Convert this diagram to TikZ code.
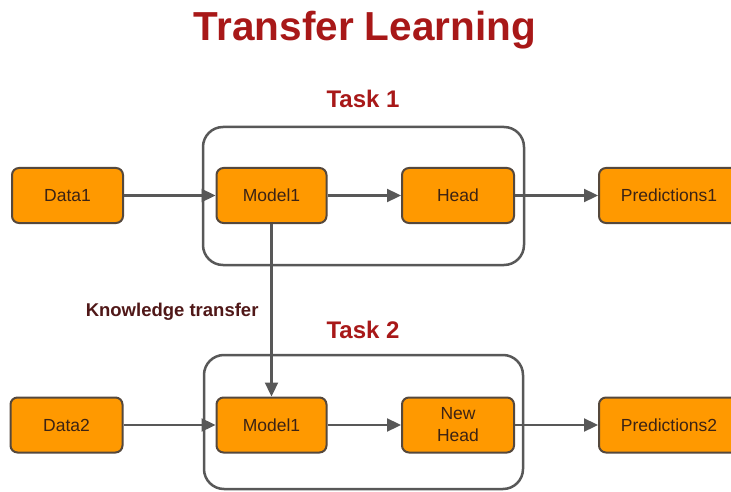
\documentclass[tikz,border=0pt]{standalone}
\usepackage{fontspec}
\setmainfont{Liberation Sans}
\usetikzlibrary{arrows.meta}
\definecolor{boxorange}{RGB}{255,153,0}
\definecolor{boxedge}{RGB}{85,72,60}
\definecolor{boxtext}{RGB}{60,35,20}
\definecolor{linegray}{RGB}{88,88,88}
\definecolor{titlered}{RGB}{168,24,24}
\definecolor{ktext}{RGB}{80,24,24}
\tikzset{
  stepbox/.style={draw=boxedge, line width=2pt, fill=boxorange, rounded corners=7pt,
    minimum height=55pt, text=boxtext, font=\fontsize{17.5}{22}\selectfont, align=center, inner sep=0pt},
  taskbox/.style={draw=linegray, line width=2.5pt, rounded corners=20pt, inner sep=0pt},
  conn/.style={draw=linegray, line width=2.3pt, -{Triangle[length=14pt,width=13pt]}},
  tasklabel/.style={text=titlered, font=\bfseries\fontsize{24}{26}\selectfont},
}
\begin{document}
\begin{tikzpicture}[x=1pt,y=-1pt]
\clip (0,0) rectangle (731,492);
\fill[white] (0,0) rectangle (731,492);
% title
\node[text=titlered, font=\bfseries\fontsize{40.5}{44}\selectfont] (title) at (365,30) {Transfer Learning};
% task boxes
\node[taskbox, minimum width=321pt, minimum height=138pt] (task1) at (363.5,196) {};
\node[taskbox, minimum width=319pt, minimum height=134pt] (task2) at (363.5,422) {};
\node[tasklabel] (t1label) at (363,99) {Task 1};
\node[tasklabel] (t2label) at (363,330) {Task 2};
% row 1
\node[stepbox, minimum width=111pt] (data1) at (67.5,195.5) {Data1};
\node[stepbox, minimum width=110pt] (model1) at (271.5,195.5) {Model1};
\node[stepbox, minimum width=112pt] (head) at (458,195.5) {Head};
\node[stepbox, minimum width=140pt] (pred1) at (669,195.5) {Predictions1};
% row 2
\node[stepbox, minimum width=112pt] (data2) at (66.5,425) {Data2};
\node[stepbox, minimum width=110pt] (model2) at (271.5,425) {Model1};
\node[stepbox, minimum width=112pt] (newhead) at (458,425) {New\\Head};
\node[stepbox, minimum width=140pt] (pred2) at (669,425) {Predictions2};
% connectors
\draw[conn] (data1) -- (model1);
\draw[conn] (model1) -- (head);
\draw[conn] (head) -- (pred1);
\draw[conn] (data2) -- (model2);
\draw[conn] (model2) -- (newhead);
\draw[conn] (newhead) -- (pred2);
\draw[conn] (model1.south) -- (model2.north);
\node[text=ktext, font=\bfseries\fontsize{18.5}{20}\selectfont, anchor=east] (ktrans) at (262,312) {Knowledge transfer};
\end{tikzpicture}
\end{document}
